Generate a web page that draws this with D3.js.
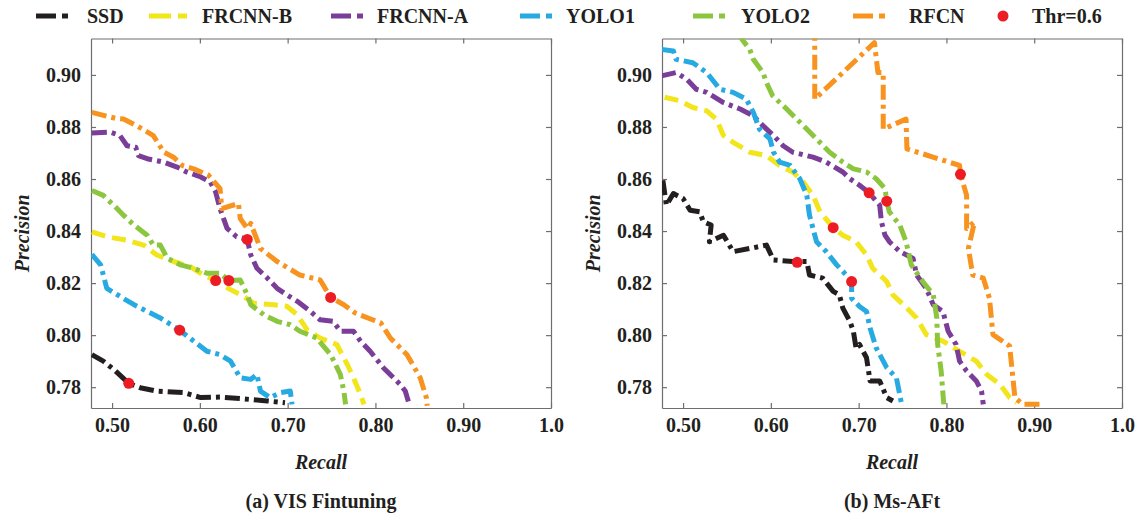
<!DOCTYPE html>
<html>
<head>
<meta charset="utf-8">
<script src="https://cdn.jsdelivr.net/npm/d3@7"></script>
<style>
  body { margin: 0; background: #fff; }
  svg { font-family: "Liberation Serif", "Times New Roman", serif; font-weight: bold; }
  .axis text { font-size: 20px; font-family: "Liberation Serif", serif; font-weight: bold; fill: #231f20; }
  .axis line, .axis path { stroke: #6d6e71; stroke-width: 1.2; }
</style>
</head>
<body>
<svg id="chart" width="1139" height="514"></svg>
<script>
// series names + colours
const seriesNames = ["SSD", "FRCNN-B", "FRCNN-A", "YOLO1", "YOLO2", "RFCN"];
const seriesColors = ["#231f20", "#f2e51b", "#7a3e98", "#27aae1", "#8cc63f", "#f7931e"];
const dotColor = "#ed1c24";

const xTicks = [0.5, 0.6, 0.7, 0.8, 0.9, 1.0];
const xTickLabels = ["0.50", "0.60", "0.70", "0.80", "0.90", "1.0"];
const yTicks = [0.78, 0.80, 0.82, 0.84, 0.86, 0.88, 0.90];

// (a) VIS Fintuning  -- [recall, precision]
const ssdA = [[0.477,0.7925],[0.490,0.790],[0.502,0.7868],[0.519,0.7815],[0.532,0.7798],[0.551,0.7785],[0.582,0.7779],[0.601,0.776],[0.623,0.7762],[0.646,0.7756],[0.677,0.7747],[0.697,0.774]];
const frcnnBA = [[0.477,0.8397],[0.494,0.8378],[0.517,0.8365],[0.536,0.8346],[0.551,0.8308],[0.570,0.8283],[0.589,0.8263],[0.604,0.8231],[0.618,0.821],[0.635,0.8175],[0.650,0.8149],[0.661,0.8123],[0.684,0.8117],[0.699,0.8111],[0.711,0.8078],[0.722,0.8021],[0.737,0.7989],[0.756,0.7964],[0.768,0.7887],[0.775,0.7836],[0.783,0.7772],[0.787,0.7734]];
const frcnnAA = [[0.477,0.8777],[0.498,0.878],[0.509,0.8767],[0.517,0.8728],[0.527,0.8722],[0.530,0.869],[0.540,0.8678],[0.559,0.8665],[0.574,0.8646],[0.585,0.8627],[0.601,0.8608],[0.612,0.8588],[0.618,0.855],[0.623,0.8486],[0.631,0.841],[0.642,0.8378],[0.654,0.8368],[0.658,0.8308],[0.665,0.8257],[0.677,0.8219],[0.688,0.818],[0.699,0.8155],[0.711,0.813],[0.726,0.8091],[0.737,0.8059],[0.752,0.8053],[0.760,0.8015],[0.775,0.8015],[0.783,0.7977],[0.794,0.7938],[0.809,0.7875],[0.828,0.7811],[0.834,0.7785],[0.838,0.774]];
const yolo1A = [[0.477,0.831],[0.487,0.827],[0.494,0.818],[0.509,0.8149],[0.525,0.8117],[0.540,0.8091],[0.555,0.8066],[0.577,0.8019],[0.593,0.7977],[0.608,0.7938],[0.623,0.7925],[0.635,0.790],[0.646,0.7836],[0.658,0.783],[0.665,0.7849],[0.669,0.7785],[0.680,0.776],[0.692,0.7779],[0.703,0.7785],[0.705,0.7734]];
const yolo2A = [[0.477,0.8556],[0.490,0.8537],[0.502,0.8499],[0.513,0.8461],[0.525,0.8423],[0.540,0.8384],[0.547,0.8346],[0.555,0.8346],[0.563,0.8295],[0.578,0.827],[0.593,0.8257],[0.608,0.8238],[0.623,0.8238],[0.633,0.821],[0.646,0.8212],[0.654,0.8155],[0.658,0.8117],[0.673,0.8078],[0.688,0.8053],[0.703,0.804],[0.714,0.8015],[0.733,0.7989],[0.749,0.7925],[0.760,0.7849],[0.764,0.7785],[0.766,0.7734]];
const rfcnA = [[0.477,0.8856],[0.504,0.8833],[0.513,0.8831],[0.528,0.8805],[0.547,0.8767],[0.559,0.8703],[0.570,0.8684],[0.580,0.8652],[0.593,0.8639],[0.610,0.8614],[0.623,0.8563],[0.625,0.8486],[0.644,0.8506],[0.646,0.8448],[0.654,0.841],[0.658,0.8429],[0.669,0.8333],[0.688,0.8283],[0.714,0.8231],[0.737,0.8212],[0.749,0.8145],[0.764,0.8117],[0.777,0.8085],[0.806,0.8047],[0.817,0.7989],[0.836,0.7925],[0.851,0.7836],[0.858,0.776],[0.859,0.7729]];
const thrA = [[0.519,0.7815],[0.577,0.8019],[0.618,0.821],[0.633,0.821],[0.654,0.8368],[0.749,0.8145]];

// (b) Ms-AFt
const ssdB = [[0.477,0.8595],[0.481,0.8499],[0.489,0.8544],[0.500,0.8525],[0.508,0.848],[0.519,0.8474],[0.523,0.8436],[0.532,0.8423],[0.530,0.8359],[0.546,0.8384],[0.557,0.8321],[0.576,0.8333],[0.595,0.8346],[0.603,0.8289],[0.625,0.8283],[0.641,0.8283],[0.644,0.8231],[0.659,0.8219],[0.671,0.8168],[0.678,0.8155],[0.682,0.8104],[0.690,0.8053],[0.694,0.8015],[0.697,0.7951],[0.701,0.7964],[0.709,0.7913],[0.713,0.7824],[0.724,0.7824],[0.732,0.776],[0.739,0.7747]];
const frcnnBB = [[0.479,0.8914],[0.496,0.8901],[0.511,0.8875],[0.527,0.8862],[0.538,0.883],[0.546,0.8767],[0.557,0.8741],[0.576,0.8703],[0.595,0.869],[0.610,0.8652],[0.625,0.8627],[0.637,0.8588],[0.648,0.8537],[0.656,0.8474],[0.671,0.8413],[0.682,0.8384],[0.697,0.8359],[0.709,0.8308],[0.716,0.8257],[0.732,0.8206],[0.739,0.8155],[0.751,0.8117],[0.766,0.8066],[0.777,0.8002],[0.796,0.7977],[0.815,0.7938],[0.834,0.790],[0.846,0.7849],[0.861,0.7811],[0.872,0.776],[0.880,0.774]];
const frcnnAB = [[0.475,0.8996],[0.492,0.9009],[0.504,0.8984],[0.515,0.8945],[0.527,0.8933],[0.546,0.8894],[0.565,0.8869],[0.580,0.8843],[0.591,0.8805],[0.603,0.8767],[0.614,0.8728],[0.625,0.8703],[0.648,0.8684],[0.663,0.8665],[0.682,0.8627],[0.690,0.8601],[0.701,0.8576],[0.712,0.8547],[0.724,0.8499],[0.726,0.8435],[0.730,0.8384],[0.735,0.8359],[0.747,0.8321],[0.762,0.8295],[0.766,0.8231],[0.777,0.818],[0.785,0.8117],[0.796,0.8091],[0.802,0.8015],[0.811,0.7964],[0.815,0.790],[0.823,0.7862],[0.834,0.7824],[0.840,0.7785],[0.842,0.7734]];
const yolo1B = [[0.475,0.9098],[0.489,0.9092],[0.492,0.906],[0.511,0.9047],[0.527,0.9009],[0.542,0.8945],[0.557,0.8933],[0.572,0.8907],[0.580,0.8856],[0.587,0.8792],[0.599,0.8754],[0.603,0.8703],[0.610,0.8665],[0.622,0.8652],[0.633,0.8601],[0.641,0.8537],[0.644,0.8461],[0.648,0.841],[0.652,0.8359],[0.663,0.8321],[0.675,0.827],[0.686,0.8231],[0.692,0.8206],[0.692,0.8142],[0.701,0.811],[0.709,0.8091],[0.713,0.8027],[0.720,0.7951],[0.732,0.7875],[0.743,0.7836],[0.749,0.7734]];
const yolo2B = [[0.563,0.916],[0.567,0.9137],[0.576,0.9098],[0.580,0.906],[0.591,0.9009],[0.595,0.8971],[0.602,0.892],[0.618,0.8869],[0.637,0.8805],[0.652,0.8754],[0.667,0.8703],[0.682,0.8665],[0.694,0.8639],[0.709,0.8627],[0.720,0.8601],[0.730,0.8563],[0.732,0.8515],[0.735,0.8474],[0.747,0.8422],[0.754,0.8359],[0.760,0.827],[0.773,0.8206],[0.785,0.8155],[0.789,0.8066],[0.790,0.7964],[0.794,0.7862],[0.797,0.7734]];
const rfcnB = [[0.650,0.93],[0.650,0.8907],[0.718,0.9124],[0.722,0.9009],[0.728,0.9009],[0.728,0.8792],[0.754,0.883],[0.755,0.8716],[0.815,0.8652],[0.816,0.8618],[0.823,0.8537],[0.823,0.841],[0.832,0.8435],[0.825,0.8333],[0.830,0.8231],[0.842,0.8219],[0.849,0.8142],[0.853,0.8002],[0.872,0.7958],[0.878,0.776],[0.887,0.7734],[0.906,0.7734]];
const thrB = [[0.630,0.828],[0.692,0.8206],[0.671,0.8413],[0.712,0.8547],[0.732,0.8515],[0.816,0.8618]];

const panels = [
  { left: 91, caption: "(a) VIS Fintuning", series: [ssdA, frcnnBA, frcnnAA, yolo1A, yolo2A, rfcnA], thr: thrA },
  { left: 662, caption: "(b) Ms-AFt", series: [ssdB, frcnnBB, frcnnAB, yolo1B, yolo2B, rfcnB], thr: thrB }
];

const W = 460, plotTop = 38.5, H = 369.5;
const dashDot = "15,5,4,5";
const dashed = "14,7";

const svg = d3.select("#chart");

panels.forEach((p, pi) => {
  const g = svg.append("g").attr("transform", `translate(${p.left},${plotTop})`);
  const x = d3.scaleLinear().domain([0.476, 1.0]).range([0, W]);
  const y = d3.scaleLinear().domain([0.772, 0.914]).range([H, 0]);

  g.append("clipPath").attr("id", "clip" + pi)
    .append("rect").attr("width", W).attr("height", H);

  // axes (ticks point inward on all four sides)
  g.append("g").attr("class", "axis").attr("transform", `translate(0,${H})`)
    .call(d3.axisBottom(x).tickValues(xTicks).tickFormat((d, i) => xTickLabels[i]).tickSize(-5).tickSizeOuter(0).tickPadding(10));
  g.append("g").attr("class", "axis")
    .call(d3.axisTop(x).tickValues(xTicks).tickFormat("").tickSize(-5).tickSizeOuter(0));
  g.append("g").attr("class", "axis")
    .call(d3.axisLeft(y).tickValues(yTicks).tickFormat(d3.format(".2f")).tickSize(-5).tickSizeOuter(0).tickPadding(10));
  g.append("g").attr("class", "axis").attr("transform", `translate(${W},0)`)
    .call(d3.axisRight(y).tickValues(yTicks).tickFormat("").tickSize(-5).tickSizeOuter(0));

  const line = d3.line().x(d => x(d[0])).y(d => y(d[1]));
  const lines = g.append("g").attr("clip-path", `url(#clip${pi})`);
  p.series.forEach((s, i) => {
    lines.append("path")
      .datum(s)
      .attr("d", line)
      .attr("fill", "none")
      .attr("stroke", seriesColors[i])
      .attr("stroke-width", 5)
      .attr("stroke-linejoin", "round")
      .attr("stroke-dasharray", i === 1 ? dashed : dashDot);
  });

  g.selectAll(".thr").data(p.thr).enter().append("circle")
    .attr("cx", d => x(d[0])).attr("cy", d => y(d[1])).attr("r", 5.5)
    .attr("fill", dotColor);

  // labels
  g.append("text").attr("x", W / 2).attr("y", 430).attr("text-anchor", "middle")
    .attr("font-size", 20).attr("font-style", "italic").attr("fill", "#231f20").text("Recall");
  g.append("text").attr("transform", `translate(-62,${H / 2 + 10}) rotate(-90)`).attr("text-anchor", "middle")
    .attr("font-size", 20).attr("font-style", "italic").attr("fill", "#231f20").text("Precision");
  g.append("text").attr("x", W / 2).attr("y", 469).attr("text-anchor", "middle")
    .attr("font-size", 20).attr("fill", "#231f20").text(p.caption);
});

// legend
const legendX = [36, 149, 331, 520, 693, 853];
const legendTextX = [87, 202, 377, 566, 741, 909];
const lg = svg.append("g");
seriesNames.forEach((n, i) => {
  lg.append("line")
    .attr("x1", legendX[i]).attr("x2", legendX[i] + (i === 1 ? 38 : 32))
    .attr("y1", 16).attr("y2", 16)
    .attr("stroke", seriesColors[i]).attr("stroke-width", 5)
    .attr("stroke-dasharray", i === 1 ? "22,7" : "20,6,6,6");
  lg.append("text").attr("x", legendTextX[i]).attr("y", 23)
    .attr("font-size", 20).attr("fill", "#231f20").text(n);
});
lg.append("circle").attr("cx", 1003).attr("cy", 16).attr("r", 5.5).attr("fill", dotColor);
lg.append("text").attr("x", 1032).attr("y", 23).attr("font-size", 20).attr("fill", "#231f20").text("Thr=0.6");
</script>
</body>
</html>
